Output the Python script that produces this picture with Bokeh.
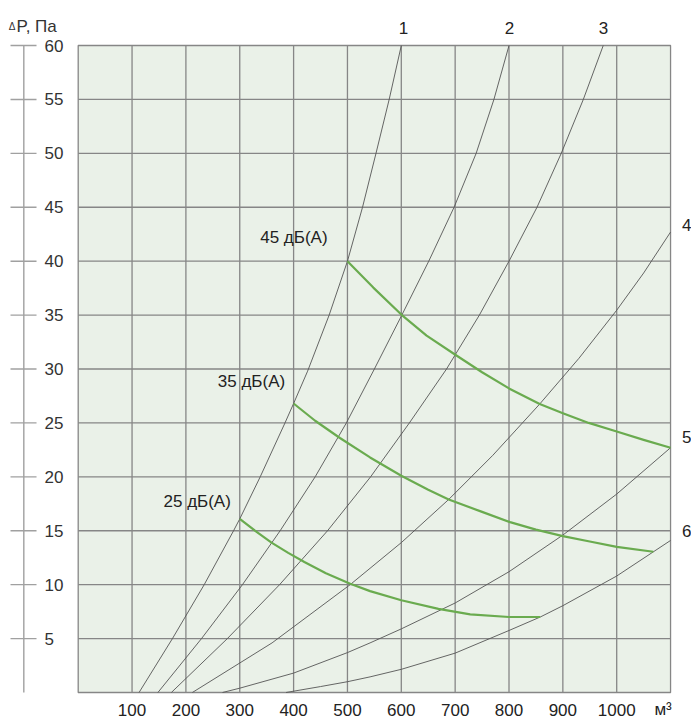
from bokeh.plotting import figure
from bokeh.models import Range1d
from bokeh.core.properties import value
from bokeh.embed import file_html
from bokeh.resources import INLINE

# ---------------- data ----------------
x_min, x_max = 0, 1100
y_min, y_max = 0, 60

x_ticks = [100, 200, 300, 400, 500, 600, 700, 800, 900, 1000]
x_tick_labels = ["100", "200", "300", "400", "500", "600", "700", "800", "900", "1000"]
x_unit_label = "м³"
y_ticks = [5, 10, 15, 20, 25, 30, 35, 40, 45, 50, 55, 60]
y_tick_labels = ["5", "10", "15", "20", "25", "30", "35", "40", "45", "50", "55", "60"]
y_title_delta = "Δ"
y_title = "P, Па"

# network characteristic curves 1..6 (flow m3/h, pressure Pa)
curve1_x = [113, 175, 234, 288.5, 300, 338, 384, 400, 426, 466, 500, 528, 553, 577.5, 600]
curve1_y = [0, 5, 10, 15, 16.1, 20, 25, 26.8, 29.8, 35, 40, 45, 50, 55, 60]
curve2_x = [148, 229, 305, 375, 440, 498, 550, 601, 651, 698, 739, 772, 800]
curve2_y = [0, 5, 10, 15, 20, 25, 30, 35, 40, 45, 50, 55, 60]
curve3_x = [173, 277, 374, 463, 543, 615, 684, 745, 800, 852, 897, 938, 975]
curve3_y = [0, 5, 10, 15, 20, 25, 30, 35, 40, 45, 50, 55, 60]
curve4_x = [212, 360, 505, 600, 688, 770, 857, 930, 1000, 1050, 1100]
curve4_y = [0, 4.6, 10, 13.9, 17.9, 22.0, 26.75, 31.0, 35.45, 38.9, 42.7]
curve5_x = [268, 300, 400, 500, 542, 600, 700, 800, 900, 1000, 1100]
curve5_y = [0, 0.4, 1.8, 3.7, 4.6, 5.9, 8.3, 11.2, 14.6, 18.4, 22.7]
curve6_x = [386, 450, 500, 542, 600, 700, 800, 858, 900, 1000, 1100]
curve6_y = [0, 0.55, 1.0, 1.45, 2.15, 3.65, 5.75, 7.0, 8.05, 10.8, 14.1]
curve_names = ["1", "2", "3", "4", "5", "6"]

# noise level curves
noise45_x = [500, 548, 600, 647, 701, 750, 800, 857, 900, 948, 1000, 1050, 1100]
noise45_y = [40, 37.55, 35.05, 33.1, 31.3, 29.7, 28.2, 26.75, 25.9, 25.0, 24.2, 23.43, 22.7]
noise35_x = [400, 440, 486, 542, 600, 650, 688, 750, 802, 850, 900, 950, 1000, 1068]
noise35_y = [26.8, 25.2, 23.6, 21.8, 20.1, 18.8, 17.9, 16.75, 15.8, 15.1, 14.5, 14.0, 13.5, 13.05]
noise25_x = [300, 330, 359, 390, 420, 460, 504, 542, 600, 669, 728, 800, 858]
noise25_y = [16.1, 14.95, 13.9, 12.95, 12.1, 11.05, 10.1, 9.4, 8.55, 7.75, 7.25, 7.0, 7.0]
noise_names = ["45 дБ(А)", "35 дБ(А)", "25 дБ(А)"]

# ---------------- styles ----------------
FONT = value("Liberation Sans")
FS = "17px"
BG = "#eaf1e8"
GRID = "#868686"
CURVE = "#555555"
GREEN = "#6aab4f"
AXIS = "#a0a0a0"
TXT = "#222222"

p = figure(width=691, height=720,
           x_range=Range1d(-144.29, 1138.9), y_range=Range1d(-2.597, 64.175),
           output_backend="svg", toolbar_location=None,
           x_axis_location=None, y_axis_location=None, min_border=0)
p.outline_line_color = None
p.background_fill_color = "white"
p.border_fill_color = "white"
p.xgrid.visible = False
p.ygrid.visible = False

# plot area background
p.quad(left=[x_min], right=[x_max], bottom=[y_min], top=[y_max],
       fill_color=BG, line_color=None)

# grid
p.segment(x0=x_ticks, y0=[y_min] * len(x_ticks), x1=x_ticks, y1=[y_max] * len(x_ticks),
          line_color=GRID, line_width=1.3)
grid_y = y_ticks[:-1]
p.segment(x0=[x_min] * len(grid_y), y0=grid_y, x1=[x_max] * len(grid_y), y1=grid_y,
          line_color=GRID, line_width=1.3)
p.quad(left=[x_min], right=[x_max], bottom=[y_min], top=[y_max],
       fill_color=None, line_color=GRID, line_width=1.3)

# left decorative axis
p.segment(x0=[-101], y0=[y_min], x1=[-101], y1=[y_max], line_color=AXIS, line_width=1.4)
p.segment(x0=[-125.7] * len(y_ticks), y0=y_ticks, x1=[-77.4] * len(y_ticks), y1=y_ticks,
          line_color=AXIS, line_width=1.4)
p.text(x=[-62.6] * len(y_ticks), y=y_ticks, text=y_tick_labels, text_align="left",
       text_baseline="middle", text_font=FONT, text_font_size=FS, text_color="#333333")
p.text(x=[-128.9], y=[61.76], text=[y_title_delta], text_align="left",
       text_baseline="alphabetic", text_font=FONT, text_font_size="10px", text_color="#333333")
p.text(x=[-114.6], y=[61.76], text=[y_title], text_align="left",
       text_baseline="alphabetic", text_font=FONT, text_font_size=FS, text_color="#333333")

# x tick labels
p.text(x=x_ticks, y=[-1.6] * len(x_ticks), text=x_tick_labels, text_align="center",
       text_baseline="middle", text_font=FONT, text_font_size=FS, text_color=TXT)
p.text(x=[1070], y=[-1.6], text=[x_unit_label], text_align="left",
       text_baseline="middle", text_font=FONT, text_font_size=FS, text_color=TXT)

# characteristic curves
curves = [(curve1_x, curve1_y), (curve2_x, curve2_y), (curve3_x, curve3_y),
          (curve4_x, curve4_y), (curve5_x, curve5_y), (curve6_x, curve6_y)]
for cx, cy in curves:
    p.line(cx, cy, line_color=CURVE, line_width=0.9, line_join="round")

# noise curves
for nx, ny in [(noise45_x, noise45_y), (noise35_x, noise35_y), (noise25_x, noise25_y)]:
    p.line(nx, ny, line_color=GREEN, line_width=2.2, line_join="round")

# curve number labels: 1-3 above the top ends, 4-6 right of the right ends
top_lab_x = [curve1_x[-1] + 4, curve2_x[-1] + 1, curve3_x[-1] + 0.5]
p.text(x=top_lab_x, y=[61.6] * 3, text=curve_names[:3], text_align="center",
       text_baseline="middle", text_font=FONT, text_font_size=FS, text_color=TXT)
p.text(x=[1130] * 3, y=[43.4, 23.7, 15.0], text=curve_names[3:], text_align="center",
       text_baseline="middle", text_font=FONT, text_font_size=FS, text_color=TXT)

# noise labels
p.text(x=[338, 259.2, 158.4], y=[42.2, 28.8, 17.7], text=noise_names, text_align="left",
       text_baseline="middle", text_font=FONT, text_font_size=FS, text_color=TXT)

open("out.html", "w").write(file_html(p, INLINE))
